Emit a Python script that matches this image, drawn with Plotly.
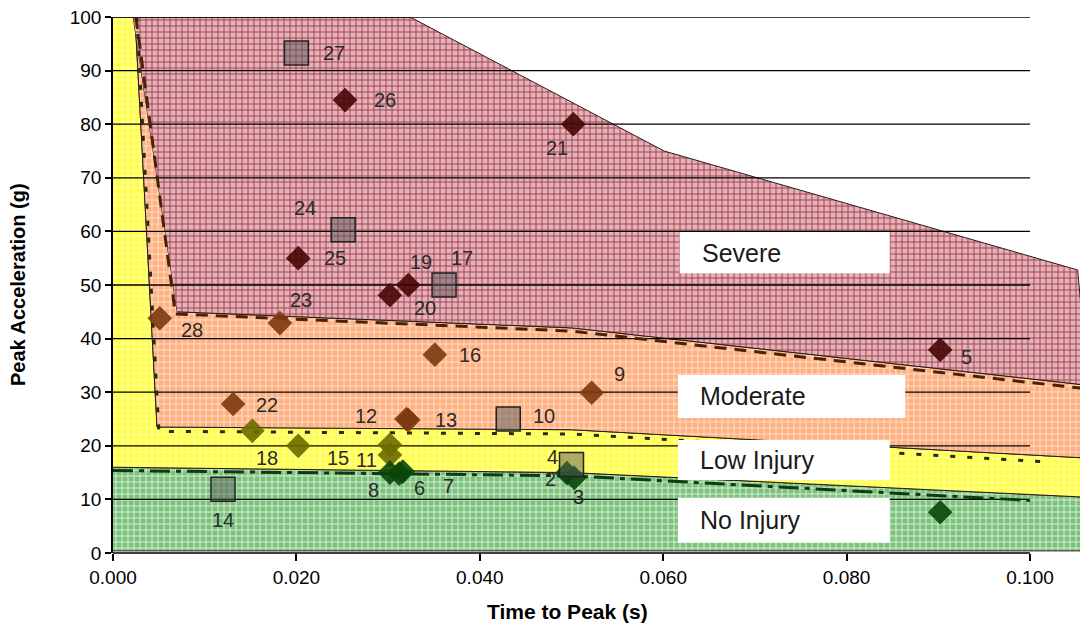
import plotly.graph_objects as go

# ---------------- data ----------------
x_ticks = [0.0, 0.02, 0.04, 0.06, 0.08, 0.10]
x_tick_text = ["0.000", "0.020", "0.040", "0.060", "0.080", "0.100"]
y_ticks = [0, 10, 20, 30, 40, 50, 60, 70, 80, 90, 100]

# injury zones (polygons: time, acceleration)
severe_t = [0.0022, 0.0324, 0.0601, 0.1052, 0.1063, 0.050, 0.0070]
severe_g = [100, 100, 75, 52.8, 31.3, 42.0, 45.0]
moderate_t = [0.0024, 0.0048, 0.050, 0.1063, 0.1063, 0.050, 0.0070, 0.0022]
moderate_g = [100, 23.5, 23.0, 17.7, 31.3, 42.0, 45.0, 100]
low_t = [0.0, 0.0024, 0.0048, 0.050, 0.1063, 0.1063, 0.050, 0.0]
low_g = [100, 100, 23.5, 23.0, 17.7, 10.4, 15.0, 16.0]
none_t = [0.0, 0.050, 0.1063, 0.1063, 0.0]
none_g = [16.0, 15.0, 10.4, 0.4, 0.4]

# threshold curves
sev_line_t = [0.0025, 0.0068, 0.050, 0.1063]
sev_line_g = [100, 44.6, 41.4, 30.6]
mod_line_t = [0.0026, 0.0050, 0.050, 0.1016]
mod_line_g = [100, 22.7, 22.2, 17.0]
low_line_t = [0.0, 0.050, 0.1000]
low_line_g = [15.4, 14.4, 9.8]

# test points
sev_id = ["26", "21", "25", "19", "20", "5"]
sev_t = [0.0253, 0.0502, 0.0202, 0.0322, 0.0302, 0.0902]
sev_g = [84.5, 80.0, 55.0, 50.0, 48.1, 37.9]

mod_id = ["23", "28", "16", "9", "22", "13", "12"]
mod_t = [0.0182, 0.0051, 0.0351, 0.0522, 0.0131, 0.0322, 0.0320]
mod_g = [42.9, 43.8, 37.0, 29.9, 27.8, 24.8, 25.0]

low_id = ["18", "15", "11", ""]
low_t_pts = [0.0152, 0.0202, 0.0302, 0.0302]
low_g_pts = [22.8, 20.0, 20.2, 18.3]

none_id = ["8", "6", "7", "2", "3", ""]
none_t_pts = [0.0302, 0.0312, 0.0316, 0.0495, 0.0503, 0.0902]
none_g_pts = [15.0, 14.8, 15.2, 14.9, 14.0, 7.6]

sq_id = ["27", "24", "17", "10", "4", "14"]
sq_t = [0.0200, 0.0251, 0.0361, 0.0431, 0.0500, 0.0120]
sq_g = [93.3, 60.3, 50.0, 25.0, 16.5, 11.9]

# label offsets in pixels (dx, dy)
label_offsets = {
    "27": (38, 0), "26": (40, 0), "21": (-16, -24), "24": (-38, 22),
    "25": (37, 0), "19": (13, 23), "20": (35, -13), "17": (18, 27),
    "23": (21, 23), "28": (32, -12), "16": (35, 0), "5": (26, -7),
    "9": (28, 19), "22": (34, -1), "12": (-40, 3), "13": (38, 0),
    "10": (36, 3), "18": (15, -27), "15": (40, -12), "11": (-23, -15),
    "8": (-16, -17), "6": (20, -14), "7": (46, -14), "4": (-19, 8),
    "2": (-16, -6), "3": (4, -19), "14": (0, -31),
}

zone_boxes = [
    ("Severe", 0.0618, 0.0847, 52.2, 59.9),
    ("Moderate", 0.0616, 0.0864, 25.2, 33.2),
    ("Low Injury", 0.0616, 0.0847, 13.6, 21.1),
    ("No Injury", 0.0616, 0.0847, 1.9, 10.3),
]

FONT = "Liberation Sans, Arial, sans-serif"

fig = go.Figure()


def zone(t, g, bg, fg, name, sol):
    fig.add_trace(go.Scatter(
        x=t, y=g, mode="lines", fill="toself", name=name,
        fillcolor=bg,
        fillpattern=dict(shape="+", bgcolor=bg, fgcolor=fg, size=6,
                         solidity=sol, fillmode="replace"),
        line=dict(color="#2a1a1a", width=1), hoverinfo="skip",
        showlegend=False))


zone(none_t, none_g, "#7cc27c", "#d8eed8", "No Injury", 0.3)
zone(low_t, low_g, "#ffff48", "#ffffb0", "Low Injury", 0.3)
zone(moderate_t, moderate_g, "#ffb080", "#ffe0cc", "Moderate", 0.3)
zone(severe_t, severe_g, "#e2b4ba", "#a8404e", "Severe", 0.3)

# grid lines (0.000 .. 0.100)
gx, gy = [], []
for v in y_ticks[1:]:
    gx += [x_ticks[0], x_ticks[-1], None]
    gy += [v, v, None]
fig.add_trace(go.Scatter(x=gx, y=gy, mode="lines",
                         line=dict(color="#000000", width=1.3),
                         hoverinfo="skip", showlegend=False))

# threshold curves
fig.add_trace(go.Scatter(x=sev_line_t, y=sev_line_g, mode="lines",
                         line=dict(color="#4a2208", width=3, dash="12px,8px"),
                         hoverinfo="skip", showlegend=False))
fig.add_trace(go.Scatter(x=mod_line_t, y=mod_line_g, mode="lines",
                         line=dict(color="#2a2a10", width=3, dash="5px,12px"),
                         hoverinfo="skip", showlegend=False))
fig.add_trace(go.Scatter(x=low_line_t, y=low_line_g, mode="lines",
                         line=dict(color="#103a10", width=3,
                                   dash="20px,6px,5px,6px"),
                         hoverinfo="skip", showlegend=False))


# points
def diamonds(t, g, color):
    fig.add_trace(go.Scatter(
        x=t, y=g, mode="markers", cliponaxis=False,
        marker=dict(symbol="diamond", size=19, color=color, opacity=0.9,
                    line=dict(width=0)),
        showlegend=False))


diamonds(sev_t, sev_g, "#460606")
diamonds(mod_t, mod_g, "#7c3810")
diamonds(low_t_pts, low_g_pts, "#6a6a00")
diamonds(none_t_pts, none_g_pts, "#0a460a")

fig.add_trace(go.Scatter(
    x=sq_t, y=sq_g, mode="markers",
    marker=dict(symbol="square", size=24, color="rgba(90,90,90,0.5)",
                line=dict(color="#222222", width=1.5)),
    showlegend=False))

# point labels
annotations = []
for ids, ts, gs in [(sev_id, sev_t, sev_g), (mod_id, mod_t, mod_g),
                    (low_id, low_t_pts, low_g_pts),
                    (none_id, none_t_pts, none_g_pts), (sq_id, sq_t, sq_g)]:
    for i, t, g in zip(ids, ts, gs):
        if not i:
            continue
        dx, dy = label_offsets[i]
        annotations.append(dict(
            x=t, y=g, xref="x", yref="y", text=i, showarrow=False,
            xshift=dx, yshift=dy,
            font=dict(family=FONT, size=20, color="#2a2a2a")))

shapes = []
for label, x0, x1, y0, y1 in zone_boxes:
    shapes.append(dict(type="rect", xref="x", yref="y", x0=x0, x1=x1,
                       y0=y0, y1=y1, fillcolor="white",
                       line=dict(width=0), layer="above"))
    annotations.append(dict(
        x=x0 + 0.0022, y=(y0 + y1) / 2, xref="x", yref="y", text=label,
        showarrow=False, xanchor="left", yanchor="middle",
        font=dict(family=FONT, size=25, color="#1a1a1a")))

# x-axis baseline from 0.000 to 0.100
shapes.append(dict(type="line", xref="x", yref="paper", x0=x_ticks[0],
                   x1=x_ticks[-1], y0=0, y1=0,
                   line=dict(color="black", width=1.5)))

annotations.append(dict(
    x=-0.0982, y=0.5, xref="paper", yref="paper", xanchor="center",
    yanchor="middle",
    text="<b>Peak Acceleration (g)</b>", textangle=-90, showarrow=False,
    font=dict(family=FONT, size=20, color="black")))
annotations.append(dict(
    x=0.4705, y=-0.109, xref="paper", yref="paper", xanchor="center",
    yanchor="middle",
    text="<b>Time to Peak (s)</b>", showarrow=False,
    font=dict(family=FONT, size=21, color="black")))

fig.update_layout(
    width=1072, height=619,
    margin=dict(l=105, r=0, t=9, b=74),
    paper_bgcolor="white", plot_bgcolor="white",
    showlegend=False,
    annotations=annotations, shapes=shapes,
    xaxis=dict(range=[0, 0.10545], tickvals=x_ticks, ticktext=x_tick_text,
               showgrid=False, zeroline=False, showline=False,
               ticks="outside", ticklen=7, tickcolor="black", tickwidth=1.5,
               ticklabeloverflow="allow",
               tickfont=dict(family=FONT, size=19, color="black")),
    yaxis=dict(range=[0, 100], tickvals=y_ticks, showgrid=False,
               zeroline=False, showline=True, linecolor="black", linewidth=1.5,
               ticks="outside", ticklen=6, tickcolor="black", tickwidth=1.5,
               ticklabeloverflow="allow",
               tickfont=dict(family=FONT, size=19, color="black")),
)

fig.write_html("out.html")
